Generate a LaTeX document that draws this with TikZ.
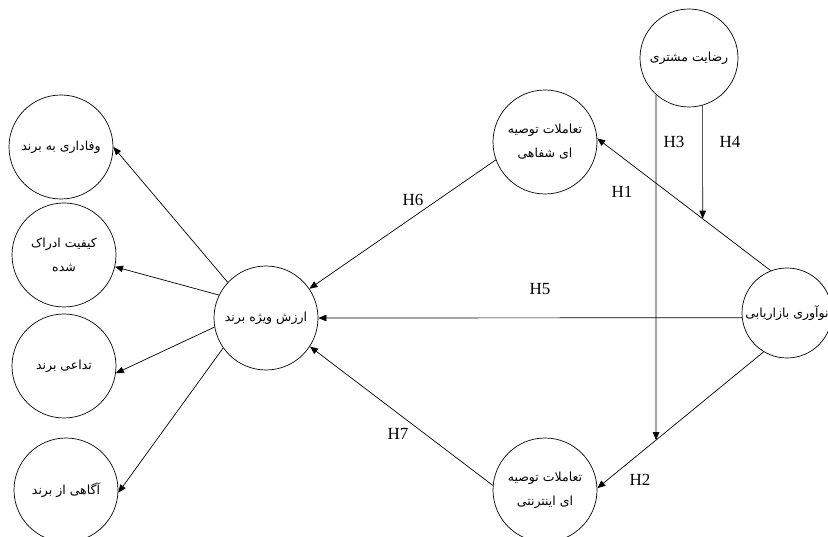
\documentclass[tikz,border=0pt]{standalone}
\usepackage{fontspec}
\setmainfont{Liberation Serif}
\newfontfamily\farsi[Script=Arabic]{DejaVu Sans}
\TeXXeTstate=1
\usetikzlibrary{arrows.meta}
\newcommand\fatxt[1]{\beginR #1\endR}

\tikzset{
  var/.style={draw, line width=0.7pt, circle, minimum size=104pt, inner sep=0pt, align=center,
    font=\farsi\fontsize{12.5}{24}\selectfont},
  hyp/.style={font=\fontsize{17}{20}\selectfont},
  link/.style={line width=0.7pt, -{Triangle[length=8pt,width=6.5pt]}},
}

\begin{document}
\begin{tikzpicture}[x=1pt,y=-1pt]
\useasboundingbox (0,0) rectangle (828,537);

% left side
\node[var] (loy) at (61,147) {\fatxt{وفاداری به برند}};
\node[var] (qual) at (64,255) {\fatxt{کیفیت ادراک}\\ \fatxt{شده}};
\node[var] (asso) at (64,366) {\fatxt{تداعی برند}};
\node[var] (aware) at (66,490) {\fatxt{آگاهی از برند}};

\node[var] (brand) at (266,318) {\fatxt{ارزش ویژه برند}};

% right side
\node[var] (wom) at (545,142) {\fatxt{تعاملات توصیه}\\ \fatxt{ای شفاهی}};
\node[var] (ewom) at (545,490) {\fatxt{تعاملات توصیه}\\ \fatxt{ای اینترنتی}};
\node[var,minimum size=98pt] (sat) at (689,58) {\fatxt{رضایت مشتری}};
\node[var,minimum size=90pt] (inno) at (787,313) {\fatxt{نوآوری بازاریابی}};

\draw[link] (brand.137) -- (loy.0);
\draw[link] (brand.154) -- (qual.-13);
\draw[link] (brand.-170) -- (asso.-8);
\draw[link] (brand.-145) -- (aware.-3);

\draw[link] (wom.-160) -- (brand.34);
\draw[link] (ewom.175) -- (brand.-33);
\draw[link] (inno.-174) -- (brand.0);

\coordinate (h1a) at (inno.111);
\coordinate (h1b) at (wom.4);
\coordinate (h2a) at (inno.-121);
\coordinate (h2b) at (ewom.2);
\draw[link] (h1a) -- (h1b);
\draw[link] (h2a) -- (h2b);

% moderator lines
\coordinate (h3top) at (sat.-132);
\coordinate (h3dir) at (h3top |- inno);
\draw[link] (h3top) -- (intersection of h2a--h2b and h3top--h3dir);
\coordinate (h4top) at (sat.-74);
\coordinate (h4dir) at (h4top |- inno);
\draw[link] (h4top) -- (intersection of h1a--h1b and h4top--h4dir);

% labels
\node[hyp] (h1) at (622,192) {H1};
\node[hyp] (h2) at (640,480) {H2};
\node[hyp] (h3) at (674,142) {H3};
\node[hyp] (h4) at (730,142) {H4};
\node[hyp] (h5) at (540,289) {H5};
\node[hyp] (h6) at (413,200) {H6};
\node[hyp] (h7) at (398,434) {H7};

\end{tikzpicture}
\end{document}
